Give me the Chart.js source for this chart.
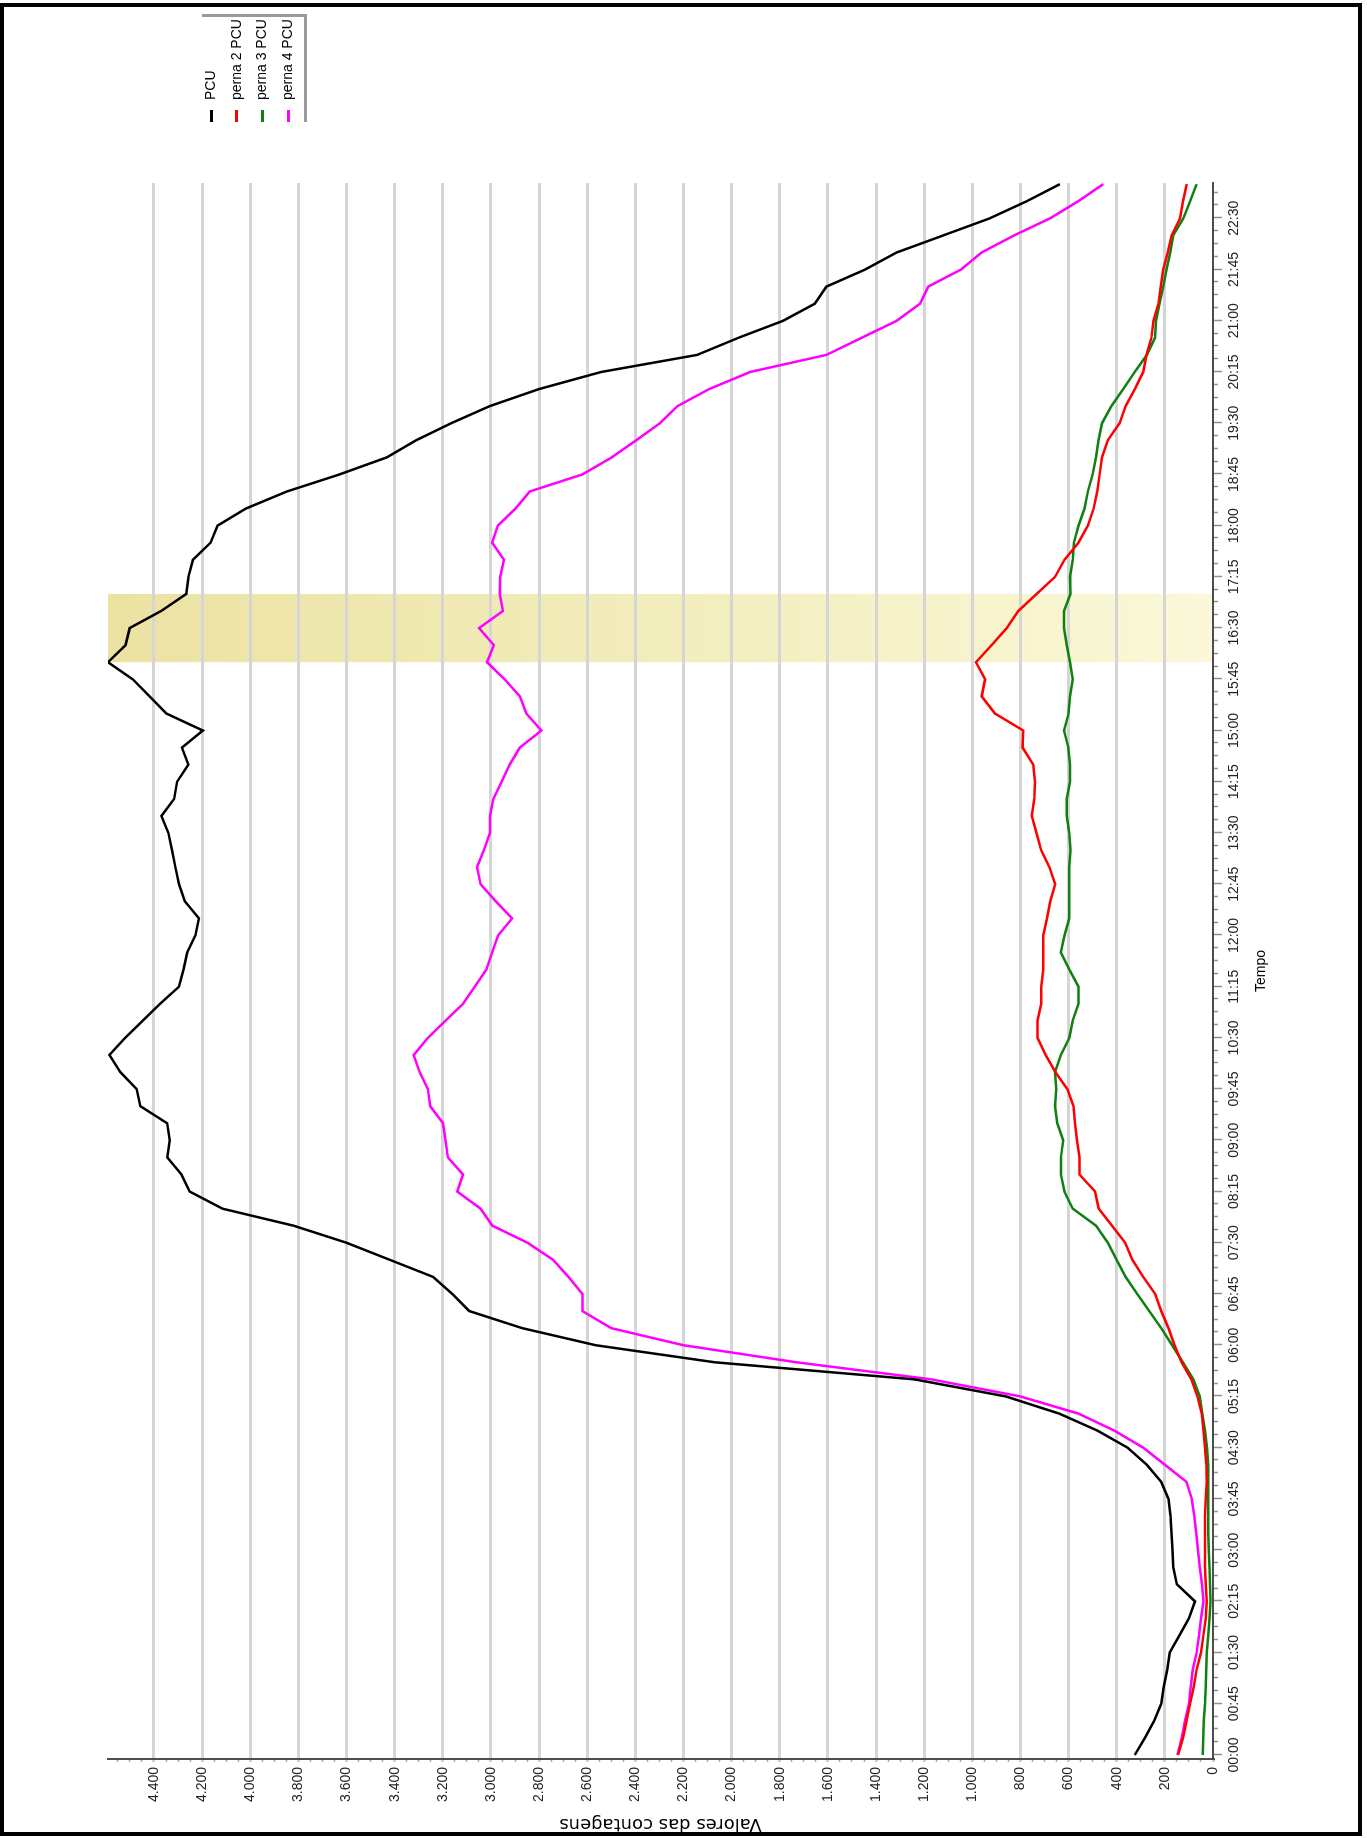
<!DOCTYPE html>
<html>
<head>
<meta charset="utf-8">
<title>Contagens PCU</title>
<script src="https://cdn.jsdelivr.net/npm/chart.js@4.4.1/dist/chart.umd.min.js"></script>
<style>
  html, body { margin: 0; padding: 0; background: #fff; overflow: hidden; }
  #frame {
    position: absolute; left: 0; top: 3px; width: 1362px; height: 1833px;
    border: 4px solid #000; box-sizing: border-box; pointer-events: none; z-index: 2;
  }
  /* the chart is laid out landscape and turned a quarter turn to the left */
  #wrap {
    position: absolute; left: 0; top: 0; width: 1838px; height: 1367px;
    transform-origin: 0 0; transform: translate(0, 1838px) rotate(-90deg);
  }
  #legend {
    position: absolute; left: 1713px; top: 199px; width: 108px; height: 105px;
    background: #fff; box-shadow: 3px 3px 0 #9a9a9a;
    font: 14px "Liberation Sans", Arial, sans-serif; color: #000;
  }
  #legend .item { position: absolute; left: 3px; height: 20px; line-height: 20px; white-space: nowrap; }
  #legend .item i { display: inline-block; width: 12px; height: 3px; vertical-align: middle; margin-right: 10px; }
</style>
</head>
<body>
<div id="frame"></div>
<div id="wrap">
  <canvas id="chart" width="1838" height="1367"></canvas>
  <div id="legend"></div>
</div>
<script>
var times = [
  '00:00', '00:15', '00:30', '00:45', '01:00', '01:15', '01:30', '01:45',
  '02:00', '02:15', '02:30', '02:45', '03:00', '03:15', '03:30', '03:45',
  '04:00', '04:15', '04:30', '04:45', '05:00', '05:15', '05:30', '05:45',
  '06:00', '06:15', '06:30', '06:45', '07:00', '07:15', '07:30', '07:45',
  '08:00', '08:15', '08:30', '08:45', '09:00', '09:15', '09:30', '09:45',
  '10:00', '10:15', '10:30', '10:45', '11:00', '11:15', '11:30', '11:45',
  '12:00', '12:15', '12:30', '12:45', '13:00', '13:15', '13:30', '13:45',
  '14:00', '14:15', '14:30', '14:45', '15:00', '15:15', '15:30', '15:45',
  '16:00', '16:15', '16:30', '16:45', '17:00', '17:15', '17:30', '17:45',
  '18:00', '18:15', '18:30', '18:45', '19:00', '19:15', '19:30', '19:45',
  '20:00', '20:15', '20:30', '20:45', '21:00', '21:15', '21:30', '21:45',
  '22:00', '22:15', '22:30', '22:45', '23:00'
];

var pcu = [
  325, 283, 245, 215, 205, 190, 180, 140, 100, 75, 150, 165, 168, 172, 177, 185,
  215, 275, 355, 480, 640, 860, 1240, 2070, 2565, 2870, 3090, 3160, 3240, 3420, 3600, 3820,
  4116, 4252, 4286, 4345, 4335, 4345, 4457, 4472, 4540, 4585, 4520, 4447, 4374, 4296, 4277, 4262,
  4228, 4213, 4272, 4296, 4311, 4325, 4340, 4369, 4316, 4304, 4257, 4284, 4197, 4349, 4418, 4488,
  4591, 4518, 4501, 4370, 4266, 4257, 4238, 4165, 4136, 4018, 3848, 3629, 3432, 3311, 3165, 3005,
  2800, 2542, 2143, 1972, 1786, 1654, 1606, 1445, 1314, 1120, 927, 774, 636
];

var perna2 = [
  145, 125, 110, 95, 80, 68, 50, 40, 30, 26, 30, 33, 33, 33, 33, 30,
  26, 28, 33, 40, 47, 65, 90, 130, 160, 185, 215, 240, 290, 335, 365, 420,
  475, 490, 555, 555, 565, 573, 580, 605, 655, 695, 729, 729, 714, 714, 705, 705,
  705, 690, 676, 656, 680, 714, 733, 753, 743, 740, 747, 791, 788, 906, 961, 947,
  985, 920, 857, 809, 733, 656, 617, 559, 520, 496, 481, 471, 461, 437, 388, 363,
  325, 290, 276, 256, 247, 227, 217, 207, 188, 172, 137, 125, 109
];

var perna3 = [
  43, 40, 38, 33, 30, 28, 26, 20, 15, 10, 12, 15, 18, 20, 20, 20,
  20, 20, 25, 33, 45, 55, 82, 125, 170, 215, 265, 315, 363, 400, 437, 486,
  583, 617, 632, 632, 622, 647, 656, 651, 656, 632, 597, 583, 559, 559, 597, 632,
  617, 597, 597, 597, 597, 592, 597, 608, 608, 594, 594, 601, 619, 600, 594, 583,
  594, 608, 619, 619, 592, 594, 583, 578, 559, 534, 520, 500, 486, 476, 461, 422,
  373, 325, 275, 241, 237, 222, 207, 193, 178, 165, 123, 95, 68
];

var perna4 = [
  148, 130, 116, 100, 92, 84, 68, 58, 50, 40, 46, 55, 62, 70, 78, 88,
  110, 200, 290, 410, 560, 800, 1170, 1730, 2200, 2500, 2620, 2620, 2678, 2741, 2848, 2994,
  3043, 3140, 3116, 3179, 3189, 3199, 3252, 3262, 3296, 3321, 3262, 3189, 3116, 3067, 3019, 2995,
  2970, 2912, 2980, 3043, 3058, 3029, 3004, 3004, 2990, 2956, 2922, 2880, 2790, 2853, 2880, 2943,
  3016, 2988, 3049, 2950, 2963, 2961, 2946, 2995, 2971, 2898, 2839, 2620, 2498, 2396, 2298, 2225,
  2093, 1923, 1606, 1460, 1314, 1217, 1183, 1047, 961, 826, 677, 560, 456
];

var seriesNames = ['PCU', 'perna 2 PCU', 'perna 3 PCU', 'perna 4 PCU'];
var seriesColors = ['#000000', '#ff0000', '#108010', '#ff00ff'];
var seriesValues = [pcu, perna2, perna3, perna4];

// shaded peak hour
var peakStart = '16:00';
var peakEnd = '17:00';

var valueMax = 4591;

function toMinutes(t) {
  var parts = t.split(':');
  return Number(parts[0]) * 60 + Number(parts[1]);
}

function clock(m) {
  var h = Math.floor(m / 60);
  var mm = m % 60;
  return (h < 10 ? '0' : '') + h + ':' + (mm < 10 ? '0' : '') + mm;
}

function thousands(v) {
  return String(v).replace(/\B(?=(\d{3})+(?!\d))/g, '.');
}

function tickList(from, to, step) {
  var list = [];
  for (var v = from; v <= to + 1e-9; v += step) {
    list.push({value: v});
  }
  return list;
}

function createDataSets() {
  return seriesValues.map((values, i) => ({
    label: seriesNames[i],
    data: values.map((v, j) => ({x: toMinutes(times[j]), y: v})),
    borderColor: seriesColors[i],
    backgroundColor: seriesColors[i],
    borderWidth: 2.5,
    pointRadius: 0,
    tension: 0,
    fill: false
  }));
}

function renderLegend() {
  var box = document.getElementById('legend');
  seriesNames.forEach((name, i) => {
    var item = document.createElement('div');
    item.className = 'item';
    item.style.top = (1 + i * 25.6) + 'px';
    var mark = document.createElement('i');
    mark.style.background = seriesColors[i];
    item.appendChild(mark);
    item.appendChild(document.createTextNode(name));
    box.appendChild(item);
  });
}

var peakBand = {
  id: 'peakBand',
  beforeDraw(chart) {
    var x = chart.scales.x;
    var area = chart.chartArea;
    var ctx = chart.ctx;
    var x1 = x.getPixelForValue(toMinutes(peakStart));
    var x2 = x.getPixelForValue(toMinutes(peakEnd));
    var grad = ctx.createLinearGradient(0, area.top, 0, area.bottom);
    grad.addColorStop(0, '#ebe2a2');
    grad.addColorStop(1, '#faf8d8');
    ctx.save();
    ctx.fillStyle = grad;
    ctx.fillRect(x1, area.top, x2 - x1, area.bottom - area.top);
    ctx.restore();
  }
};

// long marks under labelled times, short ones in between
var timeTicks = {
  id: 'timeTicks',
  afterDraw(chart) {
    var x = chart.scales.x;
    var ctx = chart.ctx;
    var y0 = chart.chartArea.bottom + 1;
    ctx.save();
    ctx.strokeStyle = '#8f8f8f';
    ctx.lineWidth = 1.5;
    x.ticks.forEach((t) => {
      var px = Math.round(x.getPixelForValue(t.value)) + 0.5;
      var len = t.value % 45 === 0 ? 8 : 4;
      ctx.beginPath();
      ctx.moveTo(px, y0);
      ctx.lineTo(px, y0 + len);
      ctx.stroke();
    });
    ctx.restore();
  }
};

Chart.defaults.font.family = '"Liberation Sans", Arial, sans-serif';

var chart = new Chart(document.getElementById('chart'), {
  type: 'line',
  data: {datasets: createDataSets()},
  options: {
    responsive: false,
    animation: false,
    devicePixelRatio: 1,
    layout: {padding: {left: 0, top: 108, right: 183, bottom: 90}},
    plugins: {
      legend: {display: false},
      tooltip: {enabled: false}
    },
    scales: {
      x: {
        type: 'linear',
        min: -3.5,
        max: 1381,
        afterBuildTicks: (scale) => { scale.ticks = tickList(0, 1381, 11.25); },
        afterFit: (scale) => { scale.height = 64; },
        grid: {drawOnChartArea: false, drawTicks: false},
        border: {color: '#4d4d4d', width: 2},
        ticks: {
          autoSkip: false,
          maxRotation: 0,
          padding: 13,
          color: '#222',
          font: {size: 14},
          callback: (v) => v % 45 === 0 ? clock(v) : ''
        },
        title: {
          display: true,
          text: 'Tempo',
          color: '#000',
          font: {size: 14},
          padding: {top: 0, bottom: 7}
        }
      },
      y: {
        min: 0,
        max: valueMax,
        afterBuildTicks: (scale) => { scale.ticks = tickList(0, 4550, 50); },
        afterFit: (scale) => { scale.width = 79; },
        grid: {
          color: (c) => c.tick && c.tick.value > 0 && c.tick.value % 200 === 0 ? '#d5d5d5' : 'rgba(0,0,0,0)',
          lineWidth: 3,
          tickLength: 3,
          tickColor: (c) => c.tick && c.tick.value % 200 === 0 ? '#cfcfcf' : '#a8a8a8',
          tickWidth: (c) => c.tick && c.tick.value % 200 === 0 ? 3 : 1.5
        },
        border: {color: '#4d4d4d', width: 2},
        ticks: {
          autoSkip: false,
          padding: 5,
          color: '#222',
          font: {size: 14},
          callback: (v) => v % 200 === 0 ? thousands(v) : ''
        },
        title: {
          display: true,
          text: 'Valores das contagens',
          color: '#000',
          font: {family: '"DejaVu Sans", Verdana, sans-serif', size: 18},
          padding: {top: 4, bottom: 0}
        }
      }
    }
  },
  plugins: [peakBand, timeTicks]
});

renderLegend();
</script>
</body>
</html>
